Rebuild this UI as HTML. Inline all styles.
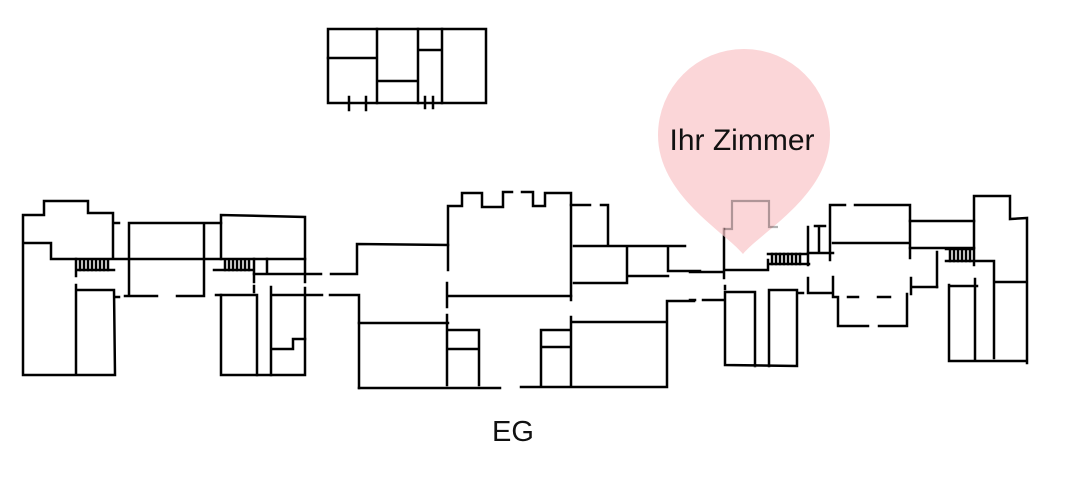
<!DOCTYPE html>
<html><head><meta charset="utf-8"><style>
html,body{margin:0;padding:0;background:#fff;width:1070px;height:480px;overflow:hidden}
svg{display:block}
</style></head><body>
<svg width="1070" height="480" viewBox="0 0 1070 480" xmlns="http://www.w3.org/2000/svg">
<g fill="none" stroke="#000" stroke-width="2.5" stroke-linecap="square">
<!-- top building -->
<rect x="328" y="29" width="158" height="74"/>
<path d="M377 29V103M418 29V103M442 29V103M328 58H377M377 81H418M418 50H442"/>
<path d="M349 97V110M366 97V110M425 97V108M433 97V108"/>
<!-- left building -->
<path d="M113 258V213H88V201H44V215H23V375H115L114 290H76M76 285V375"/>
<path d="M25 243H51V259H305"/>
<path d="M76 259V276M76 270H114"/>
<path d="M80 260V270M84 260V270M88 260V270M92 260V270M96 260V270M100 260V270M104 260V270M108 260V270"/>
<path d="M115 297H119M115 223H119M129 223H221M129 223V296M204 223V296M125 296H157M177 296H204"/>
<path d="M221 259V215L305 217V282M305 288V375H221V295M214 270H254M254 259V282M267 259V273"/>
<path d="M225 260V270M229 260V270M233 260V270M237 260V270M241 260V270M245 260V270M249 260V270"/>
<path d="M254 274H321M331 274H357V244L448 245"/>
<path d="M216 295H257V375M271 287V375M271 295H322M330 295H359V388M254 286V292"/>
<path d="M272 349H293V339H305"/>
<!-- center -->
<path d="M448 270V206H462V193H482V207H503V192H512M522 192H533V206H545V193H571V300"/>
<path d="M571 205H590M601 205H608V246M574 246H685M627 246V283M574 283H627M627 276H668M668 246V271H700"/>
<path d="M447 283V307M447 296H571"/>
<path d="M359 323H448M447 315V385M448 330H479V385M448 349H479M359 388H500"/>
<path d="M521 387H667M541 387V330H571M541 347H571M571 317V387M571 322H667M667 387V301H694"/>
<!-- right part -->
<path d="M690 272H724M724 229V278M724 270H768V260M768 254H808M768 264H809M808 227V265"/>
<path d="M772 254V264M776 254V264M780 254V264M784 254V264M788 254V264M792 254V264M796 254V264M800 254V264"/>
<path d="M819 226V253M815 226H825M830 207V260M830 205H845M855 205H910V258M833 243H910M808 253H833"/>
<path d="M910 221H974M910 248H974M937 252V287M946 249H973M946 261H973"/>
<path d="M950 249V261M954 249V261M958 249V261M962 249V261M966 249V261M970 249V261"/>
<path d="M974 265V196H1010V219L1027 218V363M974 261H994V358M994 282H1025"/>
<path d="M950 286H977M949 285V361H1026M975 279V361"/>
<path d="M808 278V293H833M833 277V297H838V326H868M879 326H907V294M848 297H858M878 297H890M911 278V294M912 287H937"/>
<path d="M725 292V365L797 366V290H769V366M755 292V366M725 292H755M797 293H803M690 300H695M703 300H724M725 286V289"/>
</g>
<!-- pin -->
<path d="M743 254 C 725 232, 658 195, 658 135 A 86 86 0 1 1 830 135 C 830 195, 761 232, 743 254 Z" fill="#f9c6c9" fill-opacity="0.72"/>
<g fill="none" stroke="#000" stroke-opacity="0.3" stroke-width="2.2">
<path d="M724 229H732V201H769V227H778"/>
</g>
<text x="742" y="150" font-family="Liberation Sans, sans-serif" font-size="30" text-anchor="middle" fill="#111">Ihr Zimmer</text>
<text x="513" y="441" font-family="Liberation Sans, sans-serif" font-size="29" text-anchor="middle" fill="#111">EG</text>
</svg>
</body></html>
